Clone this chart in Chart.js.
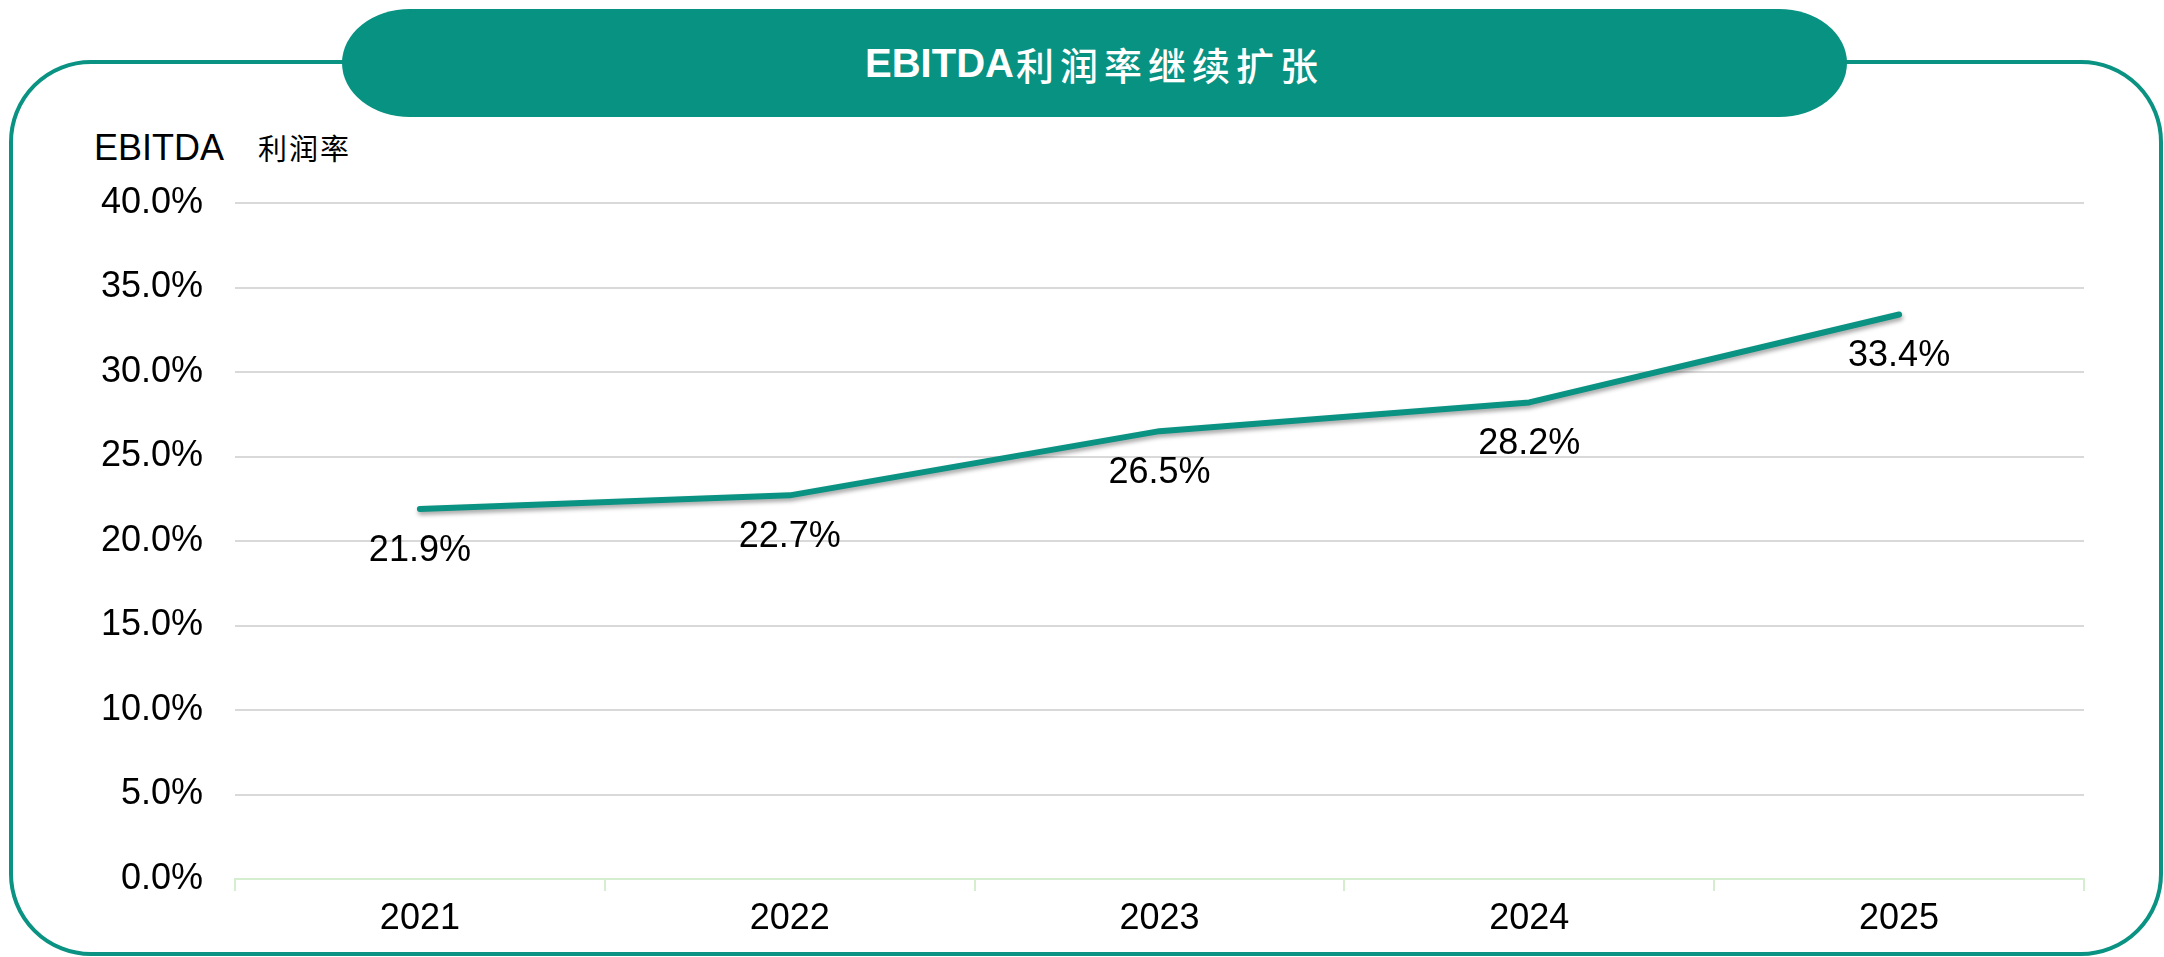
<!DOCTYPE html>
<html lang="zh">
<head>
<meta charset="UTF-8">
<title>EBITDA利润率继续扩张</title>
<script src="https://cdn.jsdelivr.net/npm/chart.js"></script>
<style>
  html, body { margin: 0; padding: 0; background: #fff; }
  body { width: 2164px; height: 957px; position: relative; overflow: hidden; font-family: "Liberation Sans", Arial, sans-serif; }
  .frame {
    position: absolute; left: 9px; top: 60px; width: 2146px; height: 888px;
    border: 4px solid #0a9282; border-radius: 82px;
  }
  .banner {
    position: absolute; left: 342px; top: 9px; width: 1505px; height: 108px;
    background: #089282; border-radius: 68px / 54px;
    color: #fff; display: flex; align-items: center; justify-content: center;
    font-size: 40px; font-weight: bold;
  }
  .banner .cjk { font-family: "Noto Sans CJK SC", sans-serif; font-weight: 500; letter-spacing: 6px; font-size: 38px; margin-left: 2px; }
  .ytitle {
    position: absolute; left: 94px; top: 125px; font-size: 36px; color: #000; line-height: 44px; white-space: nowrap;
  }
  .ytitle .cjk { font-family: "Noto Sans CJK SC", sans-serif; font-size: 29px; letter-spacing: 2px; margin-left: 34px; }
  .wrap { position: absolute; left: 0; top: 0; width: 2164px; height: 957px; }
</style>
</head>
<body>
<div class="frame"></div>
<div class="banner"><span>EBITDA</span><span class="cjk">利润率继续扩张</span></div>
<div class="ytitle">EBITDA<span class="cjk">利润率</span></div>
<div class="wrap"><canvas id="ebitdaChart"></canvas></div>

<script>
// chart data
const years = ['2021', '2022', '2023', '2024', '2025'];
const margins = [21.9, 22.7, 26.5, 28.2, 33.4];
const yTicks = [0, 5, 10, 15, 20, 25, 30, 35, 40];

const teal = '#0a9282';

Chart.defaults.font.family = '"Liberation Sans", Arial, sans-serif';
Chart.defaults.font.size = 36;
Chart.defaults.color = '#000';

// soft shadow under the line, like the original
const lineShadow = {
    id: 'lineShadow',
    beforeDatasetDraw(chart) {
        const ctx = chart.ctx;
        ctx.save();
        ctx.shadowColor = 'rgba(0,0,0,0.35)';
        ctx.shadowBlur = 4;
        ctx.shadowOffsetX = 1;
        ctx.shadowOffsetY = 3;
    },
    afterDatasetDraw(chart) {
        chart.ctx.restore();
    }
};

// value labels below each point
const valueLabels = {
    id: 'valueLabels',
    afterDatasetsDraw(chart) {
        const ctx = chart.ctx;
        const meta = chart.getDatasetMeta(0);
        ctx.save();
        ctx.font = '36px "Liberation Sans", Arial, sans-serif';
        ctx.fillStyle = '#000';
        ctx.textAlign = 'center';
        ctx.textBaseline = 'middle';
        meta.data.forEach((pt, i) => {
            ctx.fillText(margins[i].toFixed(1) + '%', pt.x, pt.y + 42);
        });
        ctx.restore();
    }
};

new Chart(document.getElementById('ebitdaChart'), {
    type: 'line',
    data: {
        labels: years,
        datasets: [{
            label: 'EBITDA 利润率',
            data: margins,
            borderColor: teal,
            borderWidth: 6,
            borderCapStyle: 'round',
            borderJoinStyle: 'round',
            pointRadius: 0,
            tension: 0,
            fill: false
        }]
    },
    options: {
        responsive: true,
        maintainAspectRatio: false,
        animation: false,
        layout: { padding: { left: 0, right: 80, top: 203, bottom: 0 } },
        plugins: {
            legend: { display: false },
            tooltip: { enabled: false }
        },
        scales: {
            x: {
                offset: true,
                afterFit: s => { s.height = 78; },
                grid: {
                    offset: true,
                    drawOnChartArea: false,
                    color: '#d6eed0',
                    lineWidth: 2,
                    tickLength: 12
                },
                border: { color: '#d6eed0', width: 2 },
                ticks: { padding: 6, maxRotation: 0 }
            },
            y: {
                min: 0,
                max: 40,
                afterFit: s => { s.width = 235; },
                afterBuildTicks: s => { s.ticks = yTicks.map(v => ({ value: v })); },
                grid: {
                    drawTicks: false,
                    lineWidth: 2,
                    color: c => c.tick && c.tick.value === 0 ? 'rgba(0,0,0,0)' : '#d9d9d9'
                },
                border: { display: false },
                ticks: {
                    padding: 32,
                    callback: v => v.toFixed(1) + '%'
                }
            }
        }
    },
    plugins: [lineShadow, valueLabels]
});
</script>
</body>
</html>
